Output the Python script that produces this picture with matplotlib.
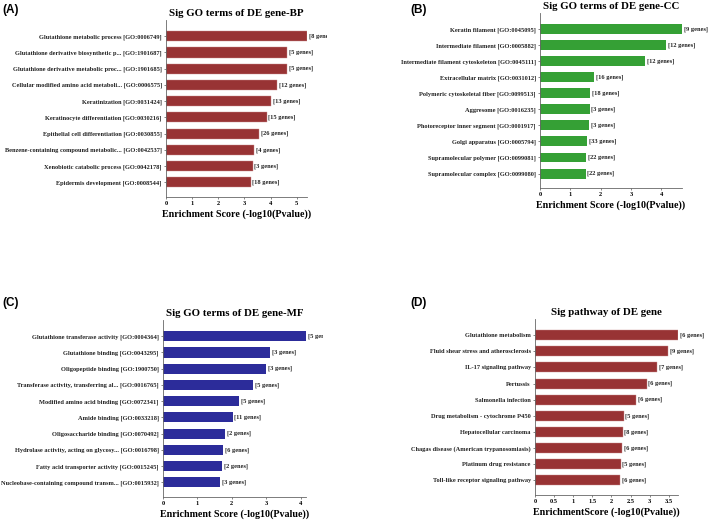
import matplotlib.pyplot as plt
from matplotlib.transforms import Bbox, TransformedBbox

FIG_W = 709
FIG_H = 520

BP_TERMS = [
    "Glutathione metabolic process [GO:0006749]",
    "Glutathione derivative biosynthetic p... [GO:1901687]",
    "Glutathione derivative metabolic proc... [GO:1901685]",
    "Cellular modified amino acid metaboli... [GO:0006575]",
    "Keratinization [GO:0031424]",
    "Keratinocyte differentiation [GO:0030216]",
    "Epithelial cell differentiation [GO:0030855]",
    "Benzene-containing compound metabolic... [GO:0042537]",
    "Xenobiotic catabolic process [GO:0042178]",
    "Epidermis development [GO:0008544]",
]
BP_SCORES = [5.39, 4.63, 4.63, 4.25, 4.01, 3.85, 3.57, 3.38, 3.31, 3.24]
BP_GENES = [8, 5, 5, 12, 13, 15, 26, 4, 3, 18]

CC_TERMS = [
    "Keratin filament [GO:0045095]",
    "Intermediate filament [GO:0005882]",
    "Intermediate filament cytoskeleton [GO:0045111]",
    "Extracellular matrix [GO:0031012]",
    "Polymeric cytoskeletal fiber [GO:0099513]",
    "Aggresome [GO:0016235]",
    "Photoreceptor inner segment [GO:0001917]",
    "Golgi apparatus [GO:0005794]",
    "Supramolecular polymer [GO:0099081]",
    "Supramolecular complex [GO:0099080]",
]
CC_SCORES = [4.68, 4.16, 3.47, 1.79, 1.65, 1.64, 1.63, 1.55, 1.51, 1.50]
CC_GENES = [9, 12, 12, 16, 18, 3, 3, 33, 22, 22]

MF_TERMS = [
    "Glutathione transferase activity [GO:0004364]",
    "Glutathione binding [GO:0043295]",
    "Oligopeptide binding [GO:1900750]",
    "Transferase activity, transferring al... [GO:0016765]",
    "Modified amino acid binding [GO:0072341]",
    "Amide binding [GO:0033218]",
    "Oligosaccharide binding [GO:0070492]",
    "Hydrolase activity, acting on glycosy... [GO:0016798]",
    "Fatty acid transporter activity [GO:0015245]",
    "Nucleobase-containing compound transm... [GO:0015932]",
]
MF_SCORES = [4.16, 3.12, 3.00, 2.62, 2.21, 2.03, 1.81, 1.75, 1.72, 1.67]
MF_GENES = [5, 3, 3, 5, 5, 11, 2, 6, 2, 3]

KEGG_TERMS = [
    "Glutathione metabolism",
    "Fluid shear stress and atherosclerosis",
    "IL-17 signaling pathway",
    "Pertussis",
    "Salmonella infection",
    "Drug metabolism - cytochrome P450",
    "Hepatocellular carcinoma",
    "Chagas disease (American trypanosomiasis)",
    "Platinum drug resistance",
    "Toll-like receptor signaling pathway",
]
KEGG_SCORES = [3.74, 3.48, 3.19, 2.92, 2.64, 2.32, 2.29, 2.27, 2.24, 2.22]
KEGG_GENES = [6, 9, 7, 6, 6, 5, 8, 6, 5, 6]

RED = "#983334"
GREEN = "#35a035"
BLUE = "#2c2c9a"

SERIF = "Liberation Serif"
SANS = "Liberation Sans"


def add_axes_px(fig, left, top, right, bottom):
    return fig.add_axes([
        left / FIG_W,
        1 - bottom / FIG_H,
        (right - left) / FIG_W,
        (bottom - top) / FIG_H,
    ])


def draw_panel(fig, box, terms, scores, genes, color, title,
               xlabel, xticks, tag, tag_xy, clip_x=None):
    ax = add_axes_px(fig, *box)
    positions = list(range(len(terms)))
    ax.barh(positions, scores, height=0.62, color=color,
            edgecolor="#c98c8c" if color == RED else "none",
            linewidth=0.3)
    ax.set_ylim(9.9, -1.0)
    ax.set_xlim(0, max(scores))
    ax.set_yticks(positions)
    ax.set_yticklabels(terms, fontsize=4.6, fontweight="bold",
                       family=SERIF, color="#222222")
    ax.set_xticks(xticks)
    ax.set_xticklabels([f"{t:g}" for t in xticks], fontsize=4.6,
                       fontweight="bold", family=SERIF)
    ax.tick_params(axis="both", length=1.5, width=0.5, pad=1.5,
                   color="#555555")
    for side in ["top", "right"]:
        ax.spines[side].set_visible(False)
    for side in ["left", "bottom"]:
        ax.spines[side].set_linewidth(0.6)
        ax.spines[side].set_color("#666666")
    ax.set_title(title, fontsize=7.8, fontweight="bold", family=SERIF,
                 pad=3)
    ax.set_xlabel(xlabel, fontsize=7.2, fontweight="bold",
                  family=SERIF, labelpad=2)

    span = max(scores)
    for pos, score, count in zip(positions, scores, genes):
        text = ax.text(score + span * 0.012, pos, f"[{count} genes]",
                       fontsize=4.6, fontweight="bold", family=SERIF,
                       va="center", ha="left", color="#222222")
        if clip_x is not None:
            clip = TransformedBbox(
                Bbox([[0, 0], [clip_x / FIG_W, 1]]), fig.transFigure
            )
            text.set_clip_box(clip)
            text.set_clip_on(True)

    fig.text(tag_xy[0] / FIG_W, 1 - tag_xy[1] / FIG_H, tag,
             fontsize=8.5, fontweight="bold", family=SANS,
             va="center", ha="left")
    return ax


def main() -> None:
    fig = plt.figure(figsize=(FIG_W / 100, FIG_H / 100), dpi=100)

    draw_panel(fig, (166, 20, 307, 197), BP_TERMS, BP_SCORES, BP_GENES,
               RED, "Sig GO terms of DE gene-BP",
               "Enrichment Score (-log10(Pvalue))",
               [0, 1, 2, 3, 4, 5], "(A)", (2, 10), clip_x=327)

    draw_panel(fig, (540, 13, 682, 188), CC_TERMS, CC_SCORES, CC_GENES,
               GREEN, "Sig GO terms of DE gene-CC",
               "Enrichment Score (-log10(Pvalue))",
               [0, 1, 2, 3, 4], "(B)", (410, 10))

    draw_panel(fig, (163, 320, 306, 497), MF_TERMS, MF_SCORES, MF_GENES,
               BLUE, "Sig GO terms of DE gene-MF",
               "Enrichment Score (-log10(Pvalue))",
               [0, 1, 2, 3, 4], "(C)", (2, 303), clip_x=323)

    draw_panel(fig, (535, 319, 678, 495), KEGG_TERMS, KEGG_SCORES,
               KEGG_GENES, RED, "Sig pathway of DE gene",
               "EnrichmentScore (-log10(Pvalue))",
               [0, 0.5, 1, 1.5, 2, 2.5, 3, 3.5], "(D)", (410, 303))

    fig.savefig("out.png", dpi=100)
    plt.close(fig)


if __name__ == "__main__":
    main()
